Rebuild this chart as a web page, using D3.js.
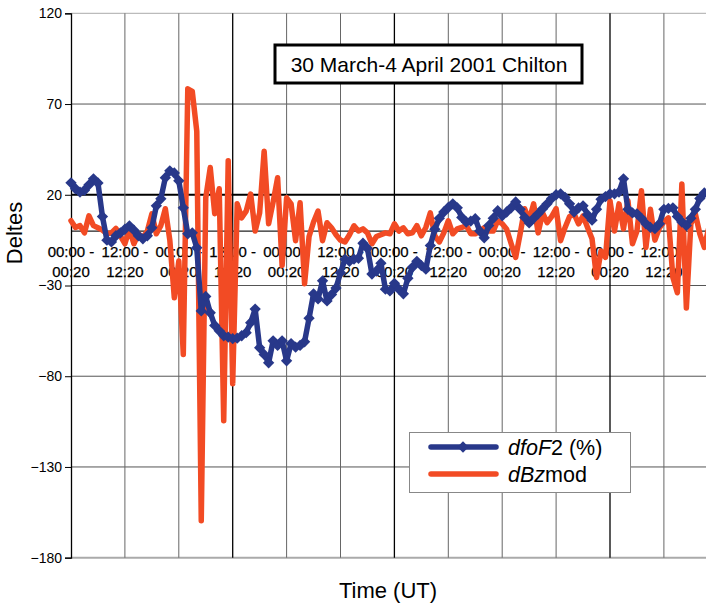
<!DOCTYPE html>
<html>
<head>
<meta charset="utf-8">
<script src="https://cdn.jsdelivr.net/npm/d3@7"></script>
<style>
  html, body { margin: 0; padding: 0; background: #fff; }
  svg { display: block; font-family: "Liberation Sans", Arial, Helvetica, sans-serif; }
</style>
</head>
<body>
<div id="chart"></div>
<script>
// time axis (hours from 30 March 00:00), hourly samples
const hours = d3.range(0, 144);

// dBzmod values (hourly)
const dBzValues = [
  5.7, 2, 3, -1, 8.4, 3, 1.8, 0.5, -1.5, -1, 1.5, -2.6,
  -7, 1, -7, -1.5, -3.7, 0, 9.5, -1.5, 3, 12.3, -5, -36.8,
  -16.5, -68, 78.4, 77, 55, -159.6, 18.3, 35, 9.5, 23.3, -104.5, 38.7,
  -84.1, 15, 7.3, 11, 20.4, 0, 10, 44, 4, 16, 29.4, -19,
  18.3, 15, -5.3, 15.6, -29, -3, 5, 11, -5.3, 4.6, 1.8, -2,
  -5, -6, -2, 2.9, 0, 1.2, -1, -7, -3, -2, -1, -1.5,
  4, 0, 1.8, -1.5, -1, 3, -2.6, 2, 10, -2.6, -6, -1,
  5.7, -1.5, 1.2, 2, 3, -1.5, -1.5, 0, 1.8, 0, 0, 5.7,
  4, 1, -7, -14.5, -1.5, 12.3, 6, 15, -1, 10, 4.6, 8,
  12.3, -5.3, 2, 8, 9.5, 4, 8.4, 2, -4.3, -25.6, -11, -14.5,
  16.7, 0, 15, 1.2, 16.7, -7, 0, 22.2, -9, 12, -5, 1.8,
  5, 7.3, -25.6, -34, 26, -42.4, 4, 9.5, -1.5, -9, 2, 6
];

// dfoF2 (%) values (hourly)
const foF2Values = [
  26.6, 23.3, 21.5, 22.5, 25.5, 28.8, 26.5, 8, -5, -6, -2.6, -1,
  1, 2.9, 0.5, -2.6, -4.3, -2.6, 1.8, 13.9, 17.8, 29.4, 33.2, 32,
  27.7, 12.8, -1.5, -1, -9.2, -44, -36, -45, -52, -55, -57.7, -58.5,
  -59.3, -59, -57.7, -56, -50.5, -43, -64.3, -68, -72.6, -60.5, -63, -60.5,
  -71.5, -62, -64, -63, -61, -48, -34.6, -37.4, -27.4, -38.5, -35, -31.4,
  -23, -15.5, -16.7, -15.5, -15, -6.7, -9.5, -23.7, -22, -17.7, -32, -33,
  -28.8, -32, -34.6, -26, -20, -16.7, -19, -21, -8, 1, 7, 10.5,
  13, 15, 12.8, 7.5, 5, 5.5, 6.8, 0, -3.7, 3, 7, 11.2,
  8.4, 10.5, 12.8, 16, 12, 7.5, 4.5, 7, 9.5, 12.3, 15, 18,
  20, 20.5, 18.5, 15, 10.5, 12.8, 13.9, 9, 6, 12, 17.5, 19,
  20.5, 20.5, 21.5, 28.8, 12, 10, 9.5, 7, 4, 2, 1.3, 4,
  12, 12.5, 12.8, 8, 5, 3, 7, 12, 18, 21, 21, 21
];

const yTicks = [-180, -130, -80, -30, 20, 70, 120];
const catHours = [0, 12, 24, 36, 48, 60, 72, 84, 96, 108, 120, 132];
const catLabels = ["00:00 -|00:20", "12:00 -|12:20", "00:00 -|00:20", "12:00 -|12:20",
                   "00:00 -|00:20", "12:00 -|12:20", "00:00 -|00:20", "12:00 -|12:20",
                   "00:00 -|00:20", "12:00 -|12:20", "00:00 -|00:20", "12:00 -|12:20"];
const gridHours = [12, 24, 36, 48, 60, 72, 84, 96, 108, 120, 132, 144];
const blackGrid = [36, 72, 120];

const BLUE = '#28388a';
const ORANGE = '#f24b24';

const width = 706, height = 605;
const svg = d3.select('#chart').append('svg')
    .attr('width', width).attr('height', height);

const x = d3.scaleLinear().domain([0, 144]).range([71, 717.8]);
const y = d3.scaleLinear().domain([-180, 120]).range([557.7, 13.3]);

// horizontal grid
svg.append('g').selectAll('line').data(yTicks).join('line')
    .attr('x1', 71).attr('x2', width)
    .attr('y1', d => y(d)).attr('y2', d => y(d))
    .attr('stroke', d => d === 20 ? '#000' : (d === -180 || d === 120 ? '#aaa' : '#555'))
    .attr('stroke-width', d => d === 20 ? 1.8 : (d === -180 ? 2 : 1));

// vertical grid
svg.append('g').selectAll('line').data(gridHours).join('line')
    .attr('x1', d => x(d)).attr('x2', d => x(d))
    .attr('y1', y(120)).attr('y2', y(-180))
    .attr('stroke', d => blackGrid.includes(d) ? '#000' : '#666')
    .attr('stroke-width', d => blackGrid.includes(d) ? 1.3 : 1);

// zero line (category axis)
svg.append('line')
    .attr('x1', 71).attr('x2', width)
    .attr('y1', y(0)).attr('y2', y(0))
    .attr('stroke', '#222').attr('stroke-width', 1.2);

// y axis
const yAxis = d3.axisLeft(y).tickValues(yTicks).tickSize(6).tickPadding(3);
const yAxisG = svg.append('g').attr('transform', 'translate(71,0)').call(yAxis);
yAxisG.select('.domain').attr('stroke', '#000').attr('stroke-width', 1.3);
yAxisG.selectAll('.tick line').attr('stroke', '#000');
yAxisG.selectAll('.tick text')
    .attr('font-size', 14).attr('fill', '#000')
    .attr('font-family', '"Liberation Sans", Arial, sans-serif');

// category labels
const cat = svg.append('g').selectAll('text').data(catHours).join('text')
    .attr('text-anchor', 'middle')
    .attr('font-size', 15).attr('fill', '#000')
    .attr('stroke', '#000').attr('stroke-width', 0.25);
cat.append('tspan').attr('x', d => x(d)).attr('y', 257)
    .text((d, i) => catLabels[i].split('|')[0]);
cat.append('tspan').attr('x', d => x(d)).attr('y', 277)
    .text((d, i) => catLabels[i].split('|')[1]);

// series
const line = d3.line().x(d => x(d[0])).y(d => y(d[1]));

svg.append('path')
    .datum(hours.map((h, i) => [h, dBzValues[i]]))
    .attr('d', line)
    .attr('fill', 'none').attr('stroke', ORANGE)
    .attr('stroke-width', 5.5).attr('stroke-linejoin', 'round').attr('stroke-linecap', 'round');

const foF2 = hours.map((h, i) => [h, foF2Values[i]]);
svg.append('path')
    .datum(foF2)
    .attr('d', line)
    .attr('fill', 'none').attr('stroke', BLUE)
    .attr('stroke-width', 5.5).attr('stroke-linejoin', 'round');

const diamond = d3.symbol(d3.symbolSquare).size(64);
svg.append('g').selectAll('path').data(foF2).join('path')
    .attr('d', diamond)
    .attr('transform', d => `translate(${x(d[0])},${y(d[1])}) rotate(45)`)
    .attr('fill', BLUE);

// title box
svg.append('rect')
    .attr('x', 275).attr('y', 45).attr('width', 307).attr('height', 38)
    .attr('fill', '#fff').attr('stroke', '#000').attr('stroke-width', 3);
svg.append('text')
    .attr('x', 429).attr('y', 72).attr('text-anchor', 'middle')
    .attr('font-size', 21).attr('fill', '#000')
    .text('30 March-4 April 2001 Chilton');

// legend
const lg = svg.append('g');
lg.append('rect')
    .attr('x', 409.5).attr('y', 432.5).attr('width', 221).attr('height', 60)
    .attr('fill', '#fff').attr('stroke', '#888').attr('stroke-width', 1);
lg.append('line').attr('x1', 431).attr('x2', 496).attr('y1', 447).attr('y2', 447)
    .attr('stroke', BLUE).attr('stroke-width', 5.5).attr('stroke-linecap', 'round');
lg.append('path').attr('d', diamond)
    .attr('transform', 'translate(463,447) rotate(45)').attr('fill', BLUE);
lg.append('line').attr('x1', 431).attr('x2', 496).attr('y1', 474).attr('y2', 474)
    .attr('stroke', ORANGE).attr('stroke-width', 5.5).attr('stroke-linecap', 'round');
const t1 = lg.append('text').attr('x', 508).attr('y', 455).attr('font-size', 21.5).attr('fill', '#000');
t1.append('tspan').attr('font-style', 'italic').text('dfoF');
t1.append('tspan').text('2 (%)');
const t2 = lg.append('text').attr('x', 508).attr('y', 482).attr('font-size', 21.5).attr('fill', '#000');
t2.append('tspan').attr('font-style', 'italic').text('dBz');
t2.append('tspan').text('mod');

// axis titles
svg.append('text')
    .attr('transform', 'translate(22,233) rotate(-90)')
    .attr('text-anchor', 'middle').attr('font-size', 22).attr('fill', '#000')
    .text('Deltes');
svg.append('text')
    .attr('x', 388).attr('y', 598).attr('text-anchor', 'middle')
    .attr('font-size', 22).attr('fill', '#000')
    .text('Time (UT)');
</script>
</body>
</html>
